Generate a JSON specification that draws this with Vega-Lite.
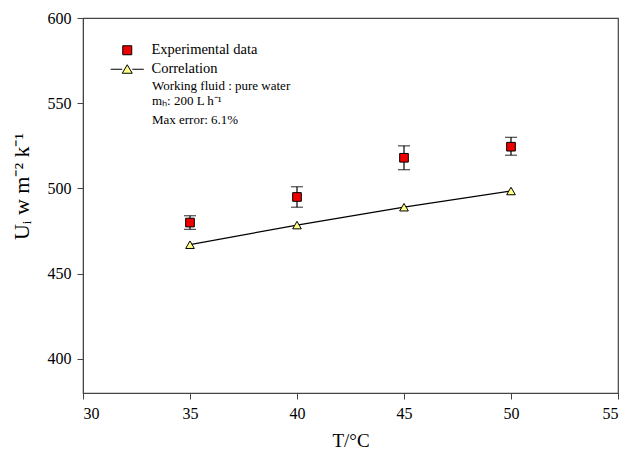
{
  "$schema": "https://vega.github.io/schema/vega-lite/v6.json",
  "autosize": "none",
  "width": 535,
  "height": 375,
  "padding": {"left": 83, "top": 18, "right": 7, "bottom": 57},
  "background": "white",
  "config": {
    "font": "Liberation Serif",
    "view": {"stroke": "#444", "strokeWidth": 1.2},
    "axis": {
      "grid": false,
      "domainColor": "#444",
      "tickColor": "#444",
      "labelFont": "Liberation Serif",
      "titleFont": "Liberation Serif",
      "labelFontSize": 16,
      "labelColor": "black",
      "titleColor": "black",
      "titleFontWeight": "normal",
      "tickSize": 6,
      "labelPadding": 6
    },
    "legend": {"labelFont": "Liberation Serif", "labelFontSize": 14.5, "labelColor": "black"}
  },
  "datasets": {
    "exp": [
      {"T": 35, "U": 480, "lo": 476, "hi": 484, "series": "Experimental data"},
      {"T": 40, "U": 495, "lo": 489, "hi": 501, "series": "Experimental data"},
      {"T": 45, "U": 518, "lo": 511, "hi": 525, "series": "Experimental data"},
      {"T": 50, "U": 524.5, "lo": 519.5, "hi": 530, "series": "Experimental data"}
    ],
    "corr": [
      {"T": 35, "U": 467, "series": "Correlation"},
      {"T": 40, "U": 478.5, "series": "Correlation"},
      {"T": 45, "U": 489, "series": "Correlation"},
      {"T": 50, "U": 498.5, "series": "Correlation"}
    ],
    "note": [
      {"line1": "Working fluid : pure water", "line2": "mₕ: 200 L h⁻¹", "line3": "Max error: 6.1%"}
    ]
  },
  "layer": [
    {
      "data": {"name": "corr"},
      "mark": {"type": "line", "color": "black", "strokeWidth": 1.2},
      "encoding": {
        "x": {"field": "T", "type": "quantitative",
              "scale": {"domain": [30, 55], "nice": false},
              "axis": {"values": [30, 35, 40, 45, 50, 55], "title": "T/°C", "titleFontSize": 19, "titlePadding": 10,
                       "labelFont": "Liberation Serif"}},
        "y": {"field": "U", "type": "quantitative",
              "scale": {"domain": [380, 600], "nice": false, "zero": false},
              "axis": {"values": [400, 450, 500, 550, 600], "title": "Uᵢ w m⁻² k⁻¹", "titleFontSize": 22, "titlePadding": 14,
                       "titleY": 168, "labelFont": "Liberation Serif"}}
      }
    },
    {
      "data": {"name": "exp"},
      "mark": {"type": "rule", "color": "black", "strokeWidth": 1.2},
      "encoding": {
        "x": {"field": "T", "type": "quantitative"},
        "y": {"field": "lo", "type": "quantitative"},
        "y2": {"field": "hi"}
      }
    },
    {
      "data": {"name": "exp"},
      "mark": {"type": "tick", "orient": "horizontal", "color": "black", "size": 12, "thickness": 1.2},
      "encoding": {
        "x": {"field": "T", "type": "quantitative"},
        "y": {"field": "lo", "type": "quantitative"}
      }
    },
    {
      "data": {"name": "exp"},
      "mark": {"type": "tick", "orient": "horizontal", "color": "black", "size": 12, "thickness": 1.2},
      "encoding": {
        "x": {"field": "T", "type": "quantitative"},
        "y": {"field": "hi", "type": "quantitative"}
      }
    },
    {
      "data": {"name": "exp"},
      "mark": {"type": "point", "shape": "square", "filled": true, "fill": "#ee0000", "stroke": "black", "strokeWidth": 1, "size": 75, "opacity": 1},
      "encoding": {
        "x": {"field": "T", "type": "quantitative"},
        "y": {"field": "U", "type": "quantitative"}
      }
    },
    {
      "data": {"name": "corr"},
      "mark": {"type": "point", "shape": "triangle-up", "filled": true, "fill": "#ffff88", "stroke": "black", "strokeWidth": 1, "size": 75, "opacity": 1},
      "encoding": {
        "x": {"field": "T", "type": "quantitative"},
        "y": {"field": "U", "type": "quantitative"}
      }
    },
    {
      "data": {"name": "exp"},
      "transform": [{"filter": "datum.T < 0"}],
      "mark": {"type": "point", "strokeWidth": 1, "opacity": 1},
      "encoding": {
        "x": {"field": "T", "type": "quantitative"},
        "y": {"field": "U", "type": "quantitative"},
        "shape": {
          "field": "series", "type": "nominal",
          "scale": {"domain": ["Experimental data", "Correlation"],
                    "range": ["M-0.9,-0.9L0.9,-0.9L0.9,0.9L-0.9,0.9Z", "M-3.3,0L-1,0M1,0L3.3,0M-1,0.8L0,-0.9L1,0.8Z"]},
          "legend": {
            "orient": "none", "legendX": 37, "legendY": 25, "title": null,
            "labelFont": "Liberation Serif", "labelFontSize": 14.5, "labelColor": "black",
            "symbolSize": 100, "labelOffset": 17, "rowPadding": 4, "symbolOffset": 0,
            "symbolStrokeWidth": 1
          }
        },
        "fill": {
          "field": "series", "type": "nominal",
          "scale": {"domain": ["Experimental data", "Correlation"], "range": ["#ee0000", "#ffff88"]},
          "legend": {
            "orient": "none", "legendX": 37, "legendY": 25, "title": null,
            "labelFont": "Liberation Serif", "labelFontSize": 14.5, "labelColor": "black",
            "symbolSize": 100, "labelOffset": 17, "rowPadding": 4, "symbolOffset": 0,
            "symbolStrokeWidth": 1
          }
        },
        "stroke": {
          "field": "series", "type": "nominal",
          "scale": {"domain": ["Experimental data", "Correlation"], "range": ["black", "black"]},
          "legend": {
            "orient": "none", "legendX": 37, "legendY": 25, "title": null,
            "labelFont": "Liberation Serif", "labelFontSize": 14.5, "labelColor": "black",
            "symbolSize": 100, "labelOffset": 17, "rowPadding": 4, "symbolOffset": 0,
            "symbolStrokeWidth": 1
          }
        }
      }
    },
    {
      "data": {"name": "note"},
      "mark": {"type": "text", "align": "left", "baseline": "middle", "font": "Liberation Serif", "fontSize": 13, "color": "black"},
      "encoding": {
        "x": {"datum": 33.22, "type": "quantitative"},
        "y": {"datum": 560, "type": "quantitative"},
        "text": {"field": "line1"}
      }
    },
    {
      "data": {"name": "note"},
      "mark": {"type": "text", "align": "left", "baseline": "middle", "font": "Liberation Serif", "fontSize": 13, "color": "black"},
      "encoding": {
        "x": {"datum": 33.22, "type": "quantitative"},
        "y": {"datum": 551.2, "type": "quantitative"},
        "text": {"field": "line2"}
      }
    },
    {
      "data": {"name": "note"},
      "mark": {"type": "text", "align": "left", "baseline": "middle", "font": "Liberation Serif", "fontSize": 13, "color": "black"},
      "encoding": {
        "x": {"datum": 33.22, "type": "quantitative"},
        "y": {"datum": 540, "type": "quantitative"},
        "text": {"field": "line3"}
      }
    }
  ]
}
